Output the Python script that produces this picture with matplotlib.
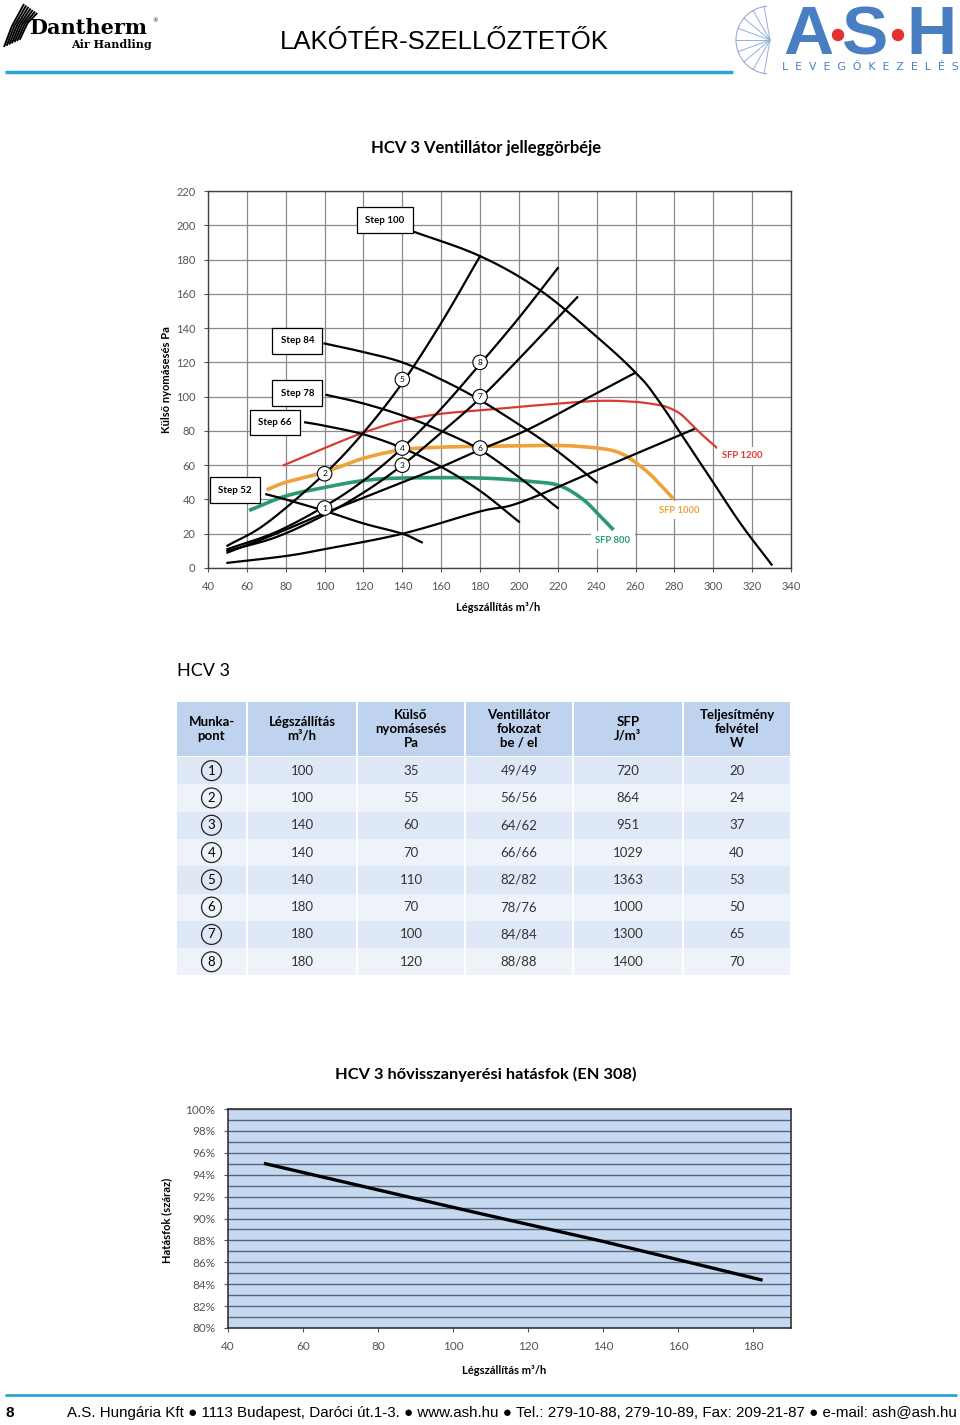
"""
HCV 3 data sheet page: fan curves, operating-point table, heat recovery efficiency
"""

import numpy as np
import matplotlib.pyplot as plt
from matplotlib.patches import Circle, Rectangle, Arc

# ── Fan curves (Step N): air flow m3/h -> external pressure Pa ──────────────
step100_x = [144, 180, 211, 242, 260, 271, 297, 314, 330]
step100_y = [197, 182, 162, 133, 114, 99, 55, 26, 2]
step84_x = [100, 120, 140, 160, 180, 205, 220, 240]
step84_y = [131, 126, 120, 110, 98, 80, 68, 50]
step78_x = [101, 120, 140, 160, 180, 200, 220]
step78_y = [101, 96, 89, 80, 69, 53, 35]
step66_x = [90, 100, 120, 140, 160, 180, 200]
step66_y = [85, 83, 78, 70, 59, 45, 27]
step52_x = [70, 80, 101, 120, 140, 150]
step52_y = [43, 40, 33, 26, 20, 15]

# ── System (duct) curves ─────────────────────────────────────────────────────
sysA_x = [50, 70, 100, 120, 140, 160, 180]
sysA_y = [13, 26, 55, 79, 108, 143, 182]
sysB_x = [50, 75, 100, 120, 140, 160, 180, 200, 220]
sysB_y = [11, 21, 36, 51, 70, 93, 119, 146, 175]
sysC_x = [50, 75, 100, 120, 140, 160, 180, 200, 230]
sysC_y = [10, 18, 31, 44, 60, 79, 99, 122, 158]
sysD_x = [50, 75, 100, 120, 140, 160, 180, 205, 235, 260]
sysD_y = [9, 20, 32, 41, 50, 59, 69, 81, 99, 114]
sysE_x = [50, 80, 100, 140, 180, 200, 240, 290]
sysE_y = [3, 7, 11, 20, 33, 38, 57, 81]

# ── SFP iso-lines ────────────────────────────────────────────────────────────
sfp1200_x = [79, 100, 120, 140, 160, 180, 210, 240, 259, 270, 276, 283, 289, 295, 302]
sfp1200_y = [60, 70, 79, 86, 90, 92, 95, 97.5, 97, 95.5, 94, 90, 83.5, 77, 70]
sfp1000_x = [71, 80, 100, 120, 140, 160, 180, 220, 240, 250, 257, 263, 269, 279]
sfp1000_y = [46, 50, 56, 64, 69, 70.5, 71, 71.5, 70, 68, 64, 59, 53, 41]
sfp800_x = [62, 80, 100, 120, 140, 180, 207, 221, 233, 242, 248]
sfp800_y = [34, 42, 47, 51, 52.5, 52.5, 50.4, 48, 40, 30, 23]

# ── Operating points (table) ─────────────────────────────────────────────────
points = [1, 2, 3, 4, 5, 6, 7, 8]
airflow = [100, 100, 140, 140, 140, 180, 180, 180]
pressure = [35, 55, 60, 70, 110, 70, 100, 120]
fan_step = ["49/49", "56/56", "64/62", "66/66", "82/82", "78/76", "84/84", "88/88"]
sfp = [720, 864, 951, 1029, 1363, 1000, 1300, 1400]
power = [20, 24, 37, 40, 53, 50, 65, 70]

# ── Heat recovery efficiency ─────────────────────────────────────────────────
eff_x = [50, 104, 140, 182]
eff_y = [95.0, 90.7, 87.9, 84.4]


def smooth(x, y, n=12):
    # Catmull-Rom through the read points, just so the lines draw smoothly
    x = np.asarray(x, float)
    y = np.asarray(y, float)
    px = np.r_[2 * x[0] - x[1], x, 2 * x[-1] - x[-2]]
    py = np.r_[2 * y[0] - y[1], y, 2 * y[-1] - y[-2]]
    t = np.linspace(0, 1, n, endpoint=False)
    ox, oy = [], []
    for i in range(1, len(px) - 2):
        for p, out in ((px, ox), (py, oy)):
            p0, p1, p2, p3 = p[i - 1], p[i], p[i + 1], p[i + 2]
            seg = 0.5 * (2 * p1 + (-p0 + p2) * t + (2 * p0 - 5 * p1 + 4 * p2 - p3) * t ** 2
                         + (-p0 + 3 * p1 - 3 * p2 + p3) * t ** 3)
            out.extend(seg)
    ox.append(x[-1])
    oy.append(y[-1])
    return ox, oy


FONT = ["Lato", "DejaVu Sans"]
ARIAL = ["Liberation Sans", "DejaVu Sans"]
BLUE_LINE = "#2aa3d5"
ASH_BLUE = "#4a7ec3"
plt.rcParams["font.family"] = FONT

fig = plt.figure(figsize=(9.6, 14.25), dpi=100)

# page overlay in pixel coordinates
page = fig.add_axes([0, 0, 1, 1])
page.set_xlim(0, 960)
page.set_ylim(1425, 0)
page.axis("off")

# ── Header ───────────────────────────────────────────────────────────────────
for i in range(7):
    page.plot([4 + 2.6 * i, 12 + 2.6 * i, 24 + 2.2 * i],
              [47 - 1.2 * i, 26 - 0.5 * i, 4 + 1.5 * i], color="black", lw=1.4,
              solid_capstyle="butt")
page.text(29, 28, "Dantherm", family="DejaVu Serif", fontweight="bold", fontsize=15,
          ha="left", va="center")
page.text(152, 21, "®", family="DejaVu Serif", fontsize=4, ha="left", va="center")
page.text(152, 44, "Air Handling", family="DejaVu Serif", fontweight="bold", fontsize=8,
          ha="right", va="center")
page.text(444, 42, "LAKÓTÉR-SZELLŐZTETŐK", family=ARIAL, fontsize=18.5,
          ha="center", va="center")
page.plot([5, 733], [72, 72], color=BLUE_LINE, lw=2.5, solid_capstyle="butt")

# ASH logo
for ang in range(100, 261, 20):
    a = np.deg2rad(ang)
    page.plot([770, 770 + 34 * np.cos(a)], [40, 40 - 34 * np.sin(a)],
              color="#8fb0da", lw=0.7)
page.add_patch(Arc((770, 40), 68, 68, theta1=95, theta2=265, color="#8fb0da", lw=0.8))
for ch, xc in [("A", 808), ("S", 865), ("H", 931)]:
    page.text(xc, 36, ch, family=ARIAL, fontweight="bold",
              fontsize=50, color=ASH_BLUE, ha="center", va="center")
for xc in (838, 898):
    page.add_patch(Circle((xc, 35), 5.5, color="#e5302f"))
page.text(870, 67, "  ".join("LEVEGŐKEZELÉS"), family="DejaVu Sans", fontsize=7.8,
          color=ASH_BLUE, ha="center", va="center")

# ── Fan curve chart ─────────────────────────────────────────────────────────
page.text(486, 148, "HCV 3 Ventillátor jelleggörbéje", fontweight="bold", fontsize=12,
          ha="center", va="center")
page.text(166, 380, "Külső nyomásesés Pa", fontweight="bold", fontsize=8,
          rotation=90, ha="center", va="center")
page.text(498, 607, "Légszállítás m³/h", fontweight="bold", fontsize=8,
          ha="center", va="center")

ax = fig.add_axes([208 / 960, 1 - 568 / 1425, 583 / 960, 377 / 1425])
ax.set_xlim(40, 340)
ax.set_ylim(0, 220)
ax.set_xticks(range(40, 341, 20))
ax.set_yticks(range(0, 221, 20))
ax.grid(True, color="#8a8a8a", lw=0.9)
ax.set_axisbelow(True)
ax.tick_params(length=3, width=0.8, color="#555555", labelsize=8, labelcolor="#555555", pad=6)
for s in ax.spines.values():
    s.set_color("#444444")
    s.set_linewidth(1.0)

ax.plot(*smooth(sfp800_x, sfp800_y), color="#2b9a6c", lw=2.6, zorder=2)
ax.plot(*smooth(sfp1000_x, sfp1000_y), color="#eea23a", lw=2.6, zorder=2)
ax.plot(*smooth(sfp1200_x, sfp1200_y), color="#d93a35", lw=1.6, zorder=2)

for xs, ys in [(sysA_x, sysA_y), (sysB_x, sysB_y), (sysC_x, sysC_y),
               (sysD_x, sysD_y), (sysE_x, sysE_y),
               (step100_x, step100_y), (step84_x, step84_y), (step78_x, step78_y),
               (step66_x, step66_y), (step52_x, step52_y)]:
    ax.plot(*smooth(xs, ys), color="black", lw=1.6, zorder=3)

for txt, xp, yp in [("Step 100", 131, 203), ("Step 84", 86, 132.5), ("Step 78", 86, 102),
                    ("Step 66", 74.5, 85), ("Step 52", 54, 45.5)]:
    ax.text(xp, yp, txt, fontsize=7, fontweight="bold", ha="center", va="center", zorder=5,
            bbox=dict(boxstyle="square,pad=0.85", fc="white", ec="black", lw=0.9))

for txt, xp, yp, col in [("SFP 1200", 314.8, 65.4, "#d93a35"), ("SFP 1000", 282.4, 33.8, "#eea23a"),
                         ("SFP 800", 248.4, 16.3, "#2b9a6c")]:
    ax.text(xp, yp, txt, fontsize=6.8, fontweight="bold", color=col, ha="center", va="center",
            zorder=5, bbox=dict(boxstyle="square,pad=0.5", fc="white", ec="none"))

for n, xp, yp in zip(points, airflow, pressure):
    ax.text(xp, yp, str(n), fontsize=6, ha="center", va="center", zorder=6,
            bbox=dict(boxstyle="circle,pad=0.45", fc="white", ec="black", lw=0.8))

# ── Table ────────────────────────────────────────────────────────────────────
page.text(177, 671, "HCV 3", fontsize=13, ha="left", va="center")
col_edges = [176, 247, 357, 465, 573, 683, 791]
col_mid = [(a + b) / 2 for a, b in zip(col_edges[:-1], col_edges[1:])]
headers = ["Munka-\npont", "Légszállítás\nm³/h", "Külső\nnyomásesés\nPa",
           "Ventillátor\nfokozat\nbe / el", "SFP\nJ/m³", "Teljesítmény\nfelvétel\nW"]
for i, h in enumerate(headers):
    x0, x1 = col_edges[i], col_edges[i + 1]
    page.add_patch(Rectangle((x0 + 1, 702), x1 - x0 - 2, 54, color="#bfd3ee", lw=0))
    page.text(col_mid[i], 729, h, fontsize=9.5, fontweight="bold", ha="center", va="center",
              linespacing=1.17)

row_h = 27.3
for r in range(len(points)):
    y0 = 757 + r * row_h
    fc = "#dfe8f6" if r % 2 == 0 else "#eef3fa"
    for i in range(6):
        x0, x1 = col_edges[i], col_edges[i + 1]
        page.add_patch(Rectangle((x0 + 1, y0), x1 - x0 - 2, row_h, color=fc, lw=0))
    yc = y0 + row_h / 2
    page.text(col_mid[0], yc, str(points[r]), fontsize=9.5, ha="center", va="center",
              bbox=dict(boxstyle="circle,pad=0.3", fc="none", ec="#222222", lw=0.9))
    vals = [airflow[r], pressure[r], fan_step[r], sfp[r], power[r]]
    for i, v in enumerate(vals):
        page.text(col_mid[i + 1], yc, str(v), fontsize=9.5, color="#333333",
                  ha="center", va="center")

# ── Efficiency chart ────────────────────────────────────────────────────────
page.text(486, 1074, "HCV 3 hővisszanyerési hatásfok (EN 308)", fontweight="bold",
          fontsize=11.8, ha="center", va="center")
page.text(167, 1220, "Hatásfok (száraz)", fontweight="bold", fontsize=8,
          rotation=90, ha="center", va="center")
page.text(504, 1370, "Légszállítás m³/h", fontweight="bold", fontsize=8,
          ha="center", va="center")

bx = fig.add_axes([228 / 960, 1 - 1328 / 1425, 563 / 960, 219 / 1425])
bx.set_facecolor("#c6d9f1")
bx.set_xlim(40, 190)
bx.set_ylim(80, 100)
bx.set_xticks(range(40, 181, 20))
bx.set_yticks(range(80, 101, 2))
bx.set_yticks(range(80, 101, 1), minor=True)
bx.yaxis.set_major_formatter(lambda v, p: f"{v:.0f}%")
bx.grid(True, axis="y", which="both", color="#56657a", lw=1.0)
bx.set_axisbelow(True)
bx.tick_params(length=3, width=0.8, color="#555555", labelsize=8.5, labelcolor="#555555", pad=6)
bx.tick_params(which="minor", length=0)
for s in bx.spines.values():
    s.set_color("#333333")
    s.set_linewidth(1.2)
bx.plot(eff_x, eff_y, color="black", lw=2.4, zorder=3)

# ── Footer ───────────────────────────────────────────────────────────────────
page.plot([5, 957], [1395, 1395], color=BLUE_LINE, lw=2, solid_capstyle="butt")
page.text(6, 1413, "8", family=ARIAL, fontweight="bold", fontsize=11, ha="left", va="center")
page.text(957, 1413, "A.S. Hungária Kft ● 1113 Budapest, Daróci út.1-3. ● www.ash.hu ● "
          "Tel.: 279-10-88, 279-10-89, Fax: 209-21-87 ● e-mail: ash@ash.hu",
          family=ARIAL, fontsize=10.9, ha="right", va="center")

fig.savefig("out.png", dpi=100)
